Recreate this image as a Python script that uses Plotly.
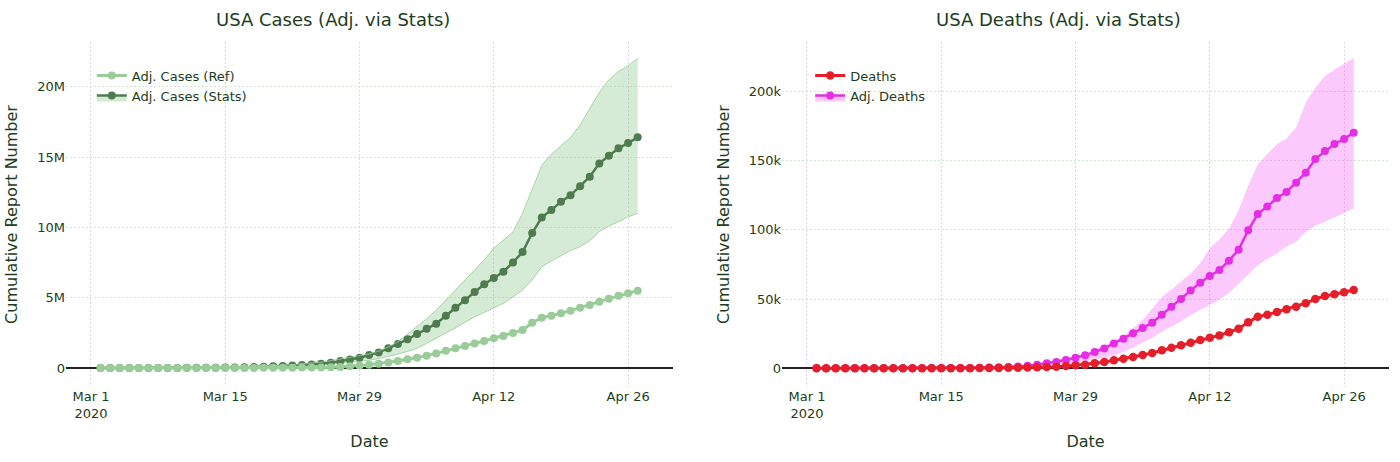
import pandas as pd
import plotly.graph_objects as go

# daily dates, Mar 2 .. Apr 27 2020
dates = pd.date_range("2020-03-02", "2020-04-27", freq="D")

# cases, in millions
cases_ref = [0.0001, 0.0002, 0.0002, 0.0003, 0.0004, 0.0005, 0.0006, 0.0008, 0.001, 0.0013,
             0.0017, 0.0022, 0.0029, 0.0037, 0.0048, 0.0063, 0.0082, 0.011, 0.014, 0.018,
             0.022, 0.028, 0.035, 0.045, 0.06, 0.08, 0.12, 0.17, 0.24, 0.31,
             0.40, 0.50, 0.62, 0.73, 0.88, 1.04, 1.23, 1.40, 1.56, 1.75,
             1.92, 2.11, 2.28, 2.49, 2.70, 3.22, 3.58, 3.72, 3.89, 4.08,
             4.29, 4.48, 4.72, 4.93, 5.14, 5.31, 5.50]
cases_stats = [0.001, 0.001, 0.002, 0.002, 0.003, 0.004, 0.005, 0.007, 0.009, 0.012,
               0.016, 0.021, 0.027, 0.034, 0.043, 0.055, 0.07, 0.09, 0.12, 0.15,
               0.18, 0.21, 0.25, 0.30, 0.37, 0.49, 0.61, 0.73, 0.92, 1.11,
               1.40, 1.71, 2.04, 2.42, 2.80, 3.15, 3.72, 4.29, 4.81, 5.40,
               5.95, 6.40, 6.85, 7.51, 8.25, 9.60, 10.71, 11.23, 11.83, 12.28,
               12.92, 13.60, 14.55, 15.10, 15.62, 16.00, 16.40]
cases_upper = [0.001, 0.001, 0.002, 0.002, 0.003, 0.004, 0.005, 0.007, 0.009, 0.012,
               0.016, 0.021, 0.027, 0.035, 0.045, 0.058, 0.08, 0.11, 0.15, 0.19,
               0.24, 0.29, 0.35, 0.42, 0.52, 0.64, 0.74, 0.86, 1.0, 1.2,
               1.5, 1.87, 2.4, 2.94, 3.5, 4.12, 4.8, 5.55, 6.25, 6.97,
               7.7, 8.51, 9.1, 9.69, 11.0, 12.66, 14.4, 15.2, 15.8, 16.4,
               17.3, 18.5, 19.6, 20.5, 21.1, 21.5, 22.0]
cases_lower = [0.001, 0.001, 0.002, 0.002, 0.003, 0.004, 0.005, 0.007, 0.009, 0.012,
               0.016, 0.02, 0.026, 0.033, 0.041, 0.052, 0.065, 0.08, 0.1, 0.12,
               0.14, 0.16, 0.19, 0.22, 0.27, 0.33, 0.39, 0.45, 0.55, 0.67,
               0.81, 0.98, 1.18, 1.40, 1.75, 2.1, 2.47, 2.85, 3.25, 3.65,
               3.95, 4.25, 4.6, 5.05, 5.55, 6.26, 7.2, 7.6, 8.0, 8.35,
               8.63, 9.05, 9.7, 10.1, 10.4, 10.75, 11.0]

# deaths, in thousands
deaths = [0.006, 0.009, 0.011, 0.012, 0.014, 0.017, 0.021, 0.022, 0.028, 0.036,
          0.04, 0.047, 0.054, 0.063, 0.085, 0.108, 0.118, 0.2, 0.244, 0.307,
          0.4, 0.5, 0.6, 0.7, 0.9, 1.2, 1.7, 2.2, 2.6, 3.6,
          4.6, 5.8, 6.9, 8.2, 9.6, 11.1, 13.0, 14.9, 16.6, 18.5,
          20.4, 22.1, 23.8, 26.0, 28.6, 33.2, 37.3, 38.7, 40.7, 42.6,
          44.5, 47.0, 50.1, 52.2, 53.5, 54.9, 56.6]
deaths_adj = [0.01, 0.015, 0.02, 0.025, 0.03, 0.035, 0.045, 0.05, 0.06, 0.08,
              0.1, 0.12, 0.14, 0.17, 0.21, 0.26, 0.3, 0.4, 0.55, 0.75,
              1.0, 1.4, 1.9, 2.6, 3.6, 4.6, 6.0, 7.7, 9.4, 11.8,
              14.4, 18.0, 21.4, 25.3, 29.1, 33.0, 38.7, 44.5, 50.1, 56.3,
              61.9, 66.7, 71.0, 77.8, 85.7, 99.7, 111.5, 117.0, 123.1, 127.4,
              134.1, 141.4, 151.2, 157.0, 162.1, 165.7, 170.3]
deaths_upper = [0.01, 0.015, 0.02, 0.025, 0.03, 0.035, 0.045, 0.05, 0.06, 0.08,
                0.1, 0.12, 0.15, 0.19, 0.24, 0.31, 0.4, 0.55, 0.8, 1.1,
                1.5, 2.0, 2.7, 3.6, 4.7, 6.0, 7.4, 8.9, 11.0, 13.5,
                16.2, 19.5, 23.5, 29.0, 35, 43, 51.5, 57, 62.5, 68.5,
                76, 86.7, 93, 101, 114, 132, 147.5, 155, 162, 166,
                174, 192, 203, 211, 216, 220, 224]
deaths_lower = [0.01, 0.015, 0.02, 0.025, 0.03, 0.035, 0.045, 0.05, 0.06, 0.08,
                0.1, 0.11, 0.12, 0.14, 0.17, 0.2, 0.25, 0.3, 0.4, 0.5,
                0.7, 0.9, 1.2, 1.6, 2.0, 2.5, 3.0, 4.0, 5.0, 6.3,
                7.6, 9.5, 11.8, 15, 18.5, 22, 26.5, 30, 34, 38.5,
                42, 45.5, 49.5, 54.5, 61, 68, 74.5, 79, 83, 88,
                91.5, 98.5, 103, 106, 109, 112.5, 115.5]

M = 1e6
K = 1e3
txt = "#213d21"
ref_col = "#99cc99"
stats_col = "#4f7c4f"
red = "#e41f2a"
mag = "#e52de5"

fig = go.Figure()

# left: cases
fig.add_trace(go.Scatter(x=dates, y=[v * M for v in cases_lower], mode="lines",
                         line=dict(color="rgba(153,204,153,0.8)", width=1),
                         showlegend=False, hoverinfo="skip", xaxis="x", yaxis="y"))
fig.add_trace(go.Scatter(x=dates, y=[v * M for v in cases_stats], mode="lines+markers",
                         name="Adj. Cases (Stats)", fill="tonexty",
                         fillcolor="rgba(153,204,153,0.4)",
                         line=dict(color=stats_col, width=2.5), marker=dict(size=8),
                         legend="legend", legendrank=2, xaxis="x", yaxis="y"))
fig.add_trace(go.Scatter(x=dates, y=[v * M for v in cases_upper], mode="lines", fill="tonexty",
                         fillcolor="rgba(153,204,153,0.4)",
                         line=dict(color="rgba(153,204,153,0.8)", width=1),
                         showlegend=False, hoverinfo="skip", xaxis="x", yaxis="y"))
fig.add_trace(go.Scatter(x=dates, y=[v * M for v in cases_ref], mode="lines+markers",
                         name="Adj. Cases (Ref)", line=dict(color=ref_col, width=3),
                         marker=dict(size=8), legend="legend", legendrank=1,
                         xaxis="x", yaxis="y"))

# right: deaths
fig.add_trace(go.Scatter(x=dates, y=[v * K for v in deaths_lower], mode="lines",
                         line=dict(color="rgba(245,100,245,0)", width=0),
                         showlegend=False, hoverinfo="skip", xaxis="x2", yaxis="y2"))
fig.add_trace(go.Scatter(x=dates, y=[v * K for v in deaths_adj], mode="lines+markers",
                         name="Adj. Deaths", fill="tonexty",
                         fillcolor="rgba(245,100,245,0.35)",
                         line=dict(color=mag, width=2.5), marker=dict(size=8),
                         legend="legend2", legendrank=2, xaxis="x2", yaxis="y2"))
fig.add_trace(go.Scatter(x=dates, y=[v * K for v in deaths_upper], mode="lines", fill="tonexty",
                         fillcolor="rgba(245,100,245,0.35)",
                         line=dict(color="rgba(245,100,245,0)", width=0),
                         showlegend=False, hoverinfo="skip", xaxis="x2", yaxis="y2"))
fig.add_trace(go.Scatter(x=dates, y=[v * K for v in deaths], mode="lines+markers",
                         name="Deaths", line=dict(color=red, width=3),
                         marker=dict(size=8.5), legend="legend2", legendrank=1,
                         xaxis="x2", yaxis="y2"))

xrange = ["2020-02-27 09:36", "2020-04-30 16:19"]
xcommon = dict(type="date", range=xrange, tick0="2020-03-01", dtick=14 * 86400000,
               showgrid=True, gridcolor="#e2d3e2", griddash="2px,2px", gridwidth=1,
               zeroline=False, showline=False, ticks="",
               title=dict(text="Date", font=dict(size=16)))
ycommon = dict(showgrid=True, gridcolor="#d3e6d3", griddash="2px,2px", gridwidth=1,
               zeroline=True, zerolinecolor="#222222", zerolinewidth=1.5,
               showline=False, ticks="",
               title=dict(text="Cumulative Report Number", font=dict(size=16)))

fig.update_layout(
    width=1400, height=462,
    margin=dict(l=62, r=11, t=42, b=75),
    paper_bgcolor="white", plot_bgcolor="white",
    font=dict(family="DejaVu Sans", size=13, color=txt),
    xaxis=dict(domain=[0, 0.4588], anchor="y", **xcommon),
    yaxis=dict(anchor="x", range=[-1.35e6, 23.18e6], dtick=5e6, **ycommon),
    xaxis2=dict(domain=[0.5412, 1], anchor="y2", **xcommon),
    yaxis2=dict(anchor="x2", range=[-13.5e3, 235.8e3], dtick=50e3, **ycommon),
    legend=dict(x=0.0195, y=0.946, xanchor="left", yanchor="top", traceorder="normal",
                bgcolor="rgba(0,0,0,0)", font=dict(size=13)),
    legend2=dict(x=0.5625, y=0.946, xanchor="left", yanchor="top", traceorder="normal",
                 bgcolor="rgba(0,0,0,0)", font=dict(size=13)),
    annotations=[
        dict(text="USA Cases (Adj. via Stats)", x=0.202, y=1.0638, xref="paper", yref="paper",
             xanchor="center", yanchor="middle", showarrow=False, font=dict(size=18)),
        dict(text="USA Deaths (Adj. via Stats)", x=0.75, y=1.0638, xref="paper", yref="paper",
             xanchor="center", yanchor="middle", showarrow=False, font=dict(size=18)),
    ],
)

fig.write_html("out.html", config={"displayModeBar": False},
               post_script="document.body.style.margin='0';")
